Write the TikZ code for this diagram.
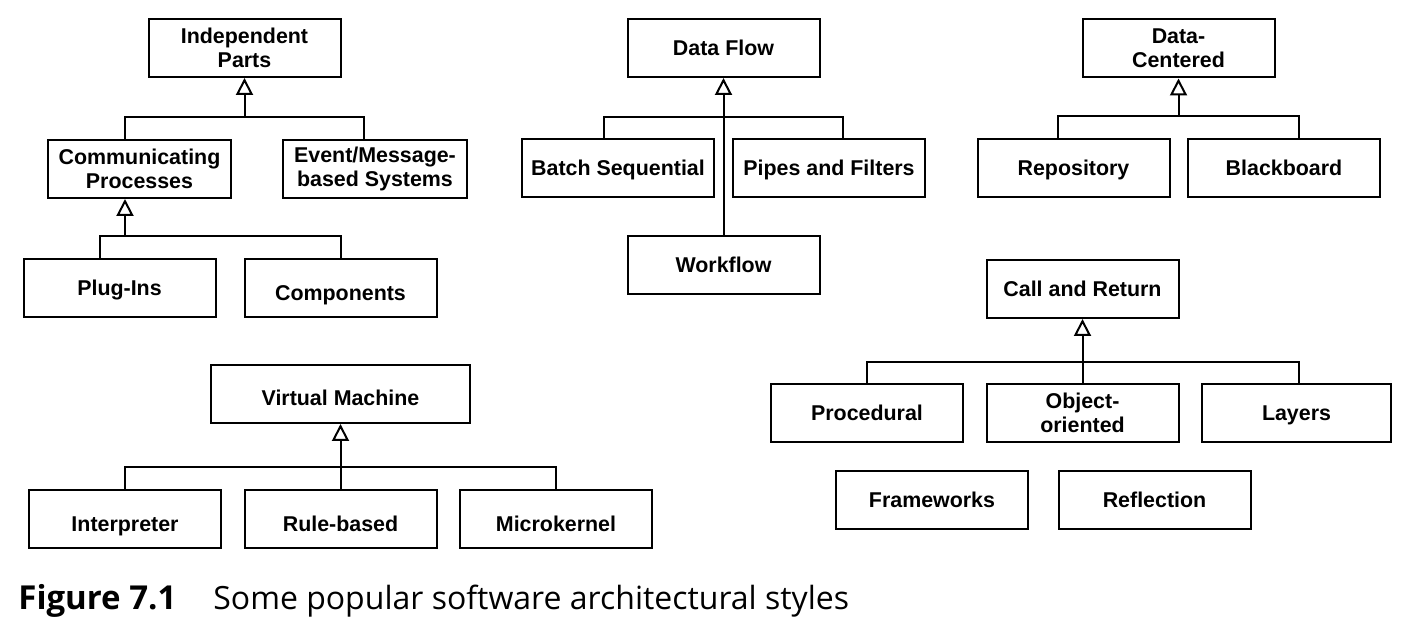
\documentclass[tikz,border=0pt]{standalone}
\usepackage{fontspec}
\setmainfont{Liberation Sans}
\newfontfamily\capfont{Open Sans}
\usetikzlibrary{arrows.meta, positioning, calc}

\begin{document}
\begin{tikzpicture}[
  x=0.5pt, y=-0.5pt,
  box2/.style={draw, line width=1pt, minimum width=96pt, minimum height=29pt,
               inner sep=0pt, align=center,
               font=\fontsize{10.7}{12}\selectfont\bfseries},
  box/.style={box2, text height=8.5pt, text depth=1pt},
  low/.style={text height=13pt, text depth=1pt},
  link/.style={line width=1pt},
  inh/.style={line width=1pt, -{Triangle[open, length=8.5pt, width=8.5pt]}},
  caption/.style={font=\capfont\fontsize{16}{18}\selectfont, inner sep=0pt}
]
  \useasboundingbox (0,0) rectangle (1408,640);

  % Independent parts
  \node[box2] (ip) at (244.5,48) {Independent\\Parts};
  \node[box2, minimum width=91.5pt] (cp) at (139.5,169) {Communicating\\Processes};
  \node[box2, minimum width=92pt] (ev) at (375,169) {Event/Message-\\based Systems};
  \node[box] (plug) at (119.5,288.5) {Plug-Ins};
  \node[box, low] (comp) at (340.5,288.5) {Components};
  \coordinate (ipJ) at ($(ip.south)+(0,39)$);
  \coordinate (cpJ) at (125,236);
  \draw[inh] (ipJ) -- (ip);
  \draw[link] ($(cp.north)+(-14.5,0)$) |- (ipJ);
  \draw[link] ($(ev.north)+(-11,0)$) |- (ipJ);
  \draw[inh] (cpJ) -- (cpJ |- cp.south);
  \draw[link] ($(plug.north)+(-19.5,0)$) |- (cpJ);
  \draw[link] (comp.north) |- (cpJ);

  % Data flow
  \node[box] (df) at (723.5,48) {Data Flow};
  \node[box] (batch) at (618,168.5) {Batch Sequential};
  \node[box] (pipes) at (829,168.5) {Pipes and Filters};
  \node[box] (wf) at (723.5,265) {Workflow};
  \coordinate (dfJ) at ($(df.south)+(0,39)$);
  \draw[inh] (wf) -- (df);
  \draw[link] ($(batch.north)+(-14,0)$) |- (dfJ);
  \draw[link] ($(pipes.north)+(14,0)$) |- (dfJ);

  % Data centered
  \node[box2] (dc) at (1178.5,48.5) {Data-\\Centered};
  \node[box] (repo) at (1073.5,168.5) {Repository};
  \node[box] (bb) at (1284,168.5) {Blackboard};
  \coordinate (dcJ) at ($(dc.south)+(0,38)$);
  \draw[inh] (dcJ) -- (dc);
  \draw[link] ($(repo.north)+(-15.5,0)$) |- (dcJ);
  \draw[link] ($(bb.north)+(15,0)$) |- (dcJ);

  % Call and return
  \node[box] (cr) at (1082.5,289) {Call and Return};
  \node[box] (proc) at (867,413) {Procedural};
  \node[box2] (oo) at (1082.5,413) {Object-\\oriented};
  \node[box, minimum width=94.5pt] (lay) at (1296.5,413) {Layers};
  \node[box] (fw) at (932,500.5) {Frameworks};
  \node[box] (refl) at (1154.5,500.5) {Reflection};
  \coordinate (crJ) at ($(cr.south)+(0,43)$);
  \draw[inh] (oo) -- (cr);
  \draw[link] (proc.north) |- (crJ);
  \draw[link] ($(lay.north)+(2.5,0)$) |- (crJ);

  % Virtual machine
  \node[box, low, minimum width=129.5pt] (vm) at (340.5,394) {Virtual Machine};
  \node[box, low] (interp) at (125,519.5) {Interpreter};
  \node[box, low] (rule) at (340.5,519.5) {Rule-based};
  \node[box, low] (mk) at (556,519.5) {Microkernel};
  \coordinate (vmJ) at ($(vm.south)+(0,43)$);
  \draw[inh] (rule) -- (vm);
  \draw[link] (interp.north) |- (vmJ);
  \draw[link] (mk.north) |- (vmJ);

  % Caption
  \node[caption, anchor=base west] (fig) at (18,610)
    {\fontsize{16.5}{18}\selectfont\bfseries Figure 7.1};
  \node[caption, anchor=base west] (cap) at (213,610)
    {Some popular software architectural styles};
\end{tikzpicture}
\end{document}
